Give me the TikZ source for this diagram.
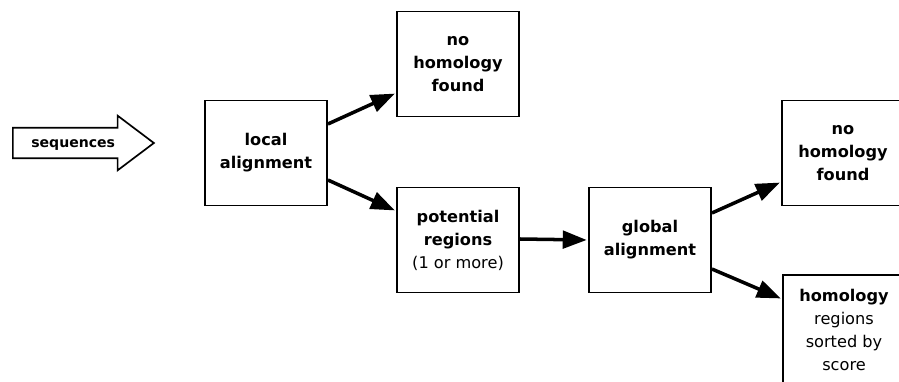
\documentclass[tikz,border=0pt]{standalone}
\usepackage{fontspec}
\setmainfont{DejaVu Sans}
\usetikzlibrary{arrows.meta,shapes.arrows}

\begin{document}
\begin{tikzpicture}[x=0.025cm,y=-0.025cm]
\useasboundingbox (0,0) rectangle (899,381);

\node[single arrow,draw,line width=1.2pt,anchor=tail,
      minimum height=3.525cm,single arrow head extend=0.3cm,
      single arrow tip angle=74,inner ysep=5.3pt,inner xsep=4pt,
      text height=8pt,text depth=2pt,
      font=\fontsize{10}{12}\selectfont\bfseries] (seq) at (12,143) {sequences\hspace{0.95cm}};

\begin{scope}[every node/.style={rectangle,draw,line width=1.3pt,
              minimum width=3.05cm,minimum height=2.625cm,align=center,
              font=\fontsize{11.5}{16.4}\selectfont\bfseries}]
    \node (LA) at (266,153) {local\\alignment};

    \node (NH) at (458,64) {no\\homology\\found};
    \node (PR) at (458,240) {potential\\regions\\{\mdseries(1 or more)}};

    \node (GA) at (650,240) {global\\alignment};

    \node (NHG) at (843,153) {no\\homology\\found};
    \node[minimum height=2.75cm] (HR) at (844,330) {homology\\{\mdseries regions}\\{\mdseries sorted by}\\{\mdseries score}};
\end{scope}

\begin{scope}[every edge/.style={draw=black,line width=2.5pt,
              -{Triangle[length=17pt,width=12.5pt]},shorten >=1pt}]
    \path ([yshift=0.725cm]LA.east) edge ([yshift=-0.725cm]NH.west);
    \path ([yshift=-0.675cm]LA.east) edge ([yshift=0.725cm]PR.west);

    \path ([yshift=0.025cm]PR.east) edge (GA.west);

    \path ([yshift=0.675cm]GA.east) edge ([yshift=-0.725cm]NHG.west);
    \path ([yshift=-0.725cm]GA.east) edge ([yshift=0.775cm]HR.west);
\end{scope}
\end{tikzpicture}
\end{document}
